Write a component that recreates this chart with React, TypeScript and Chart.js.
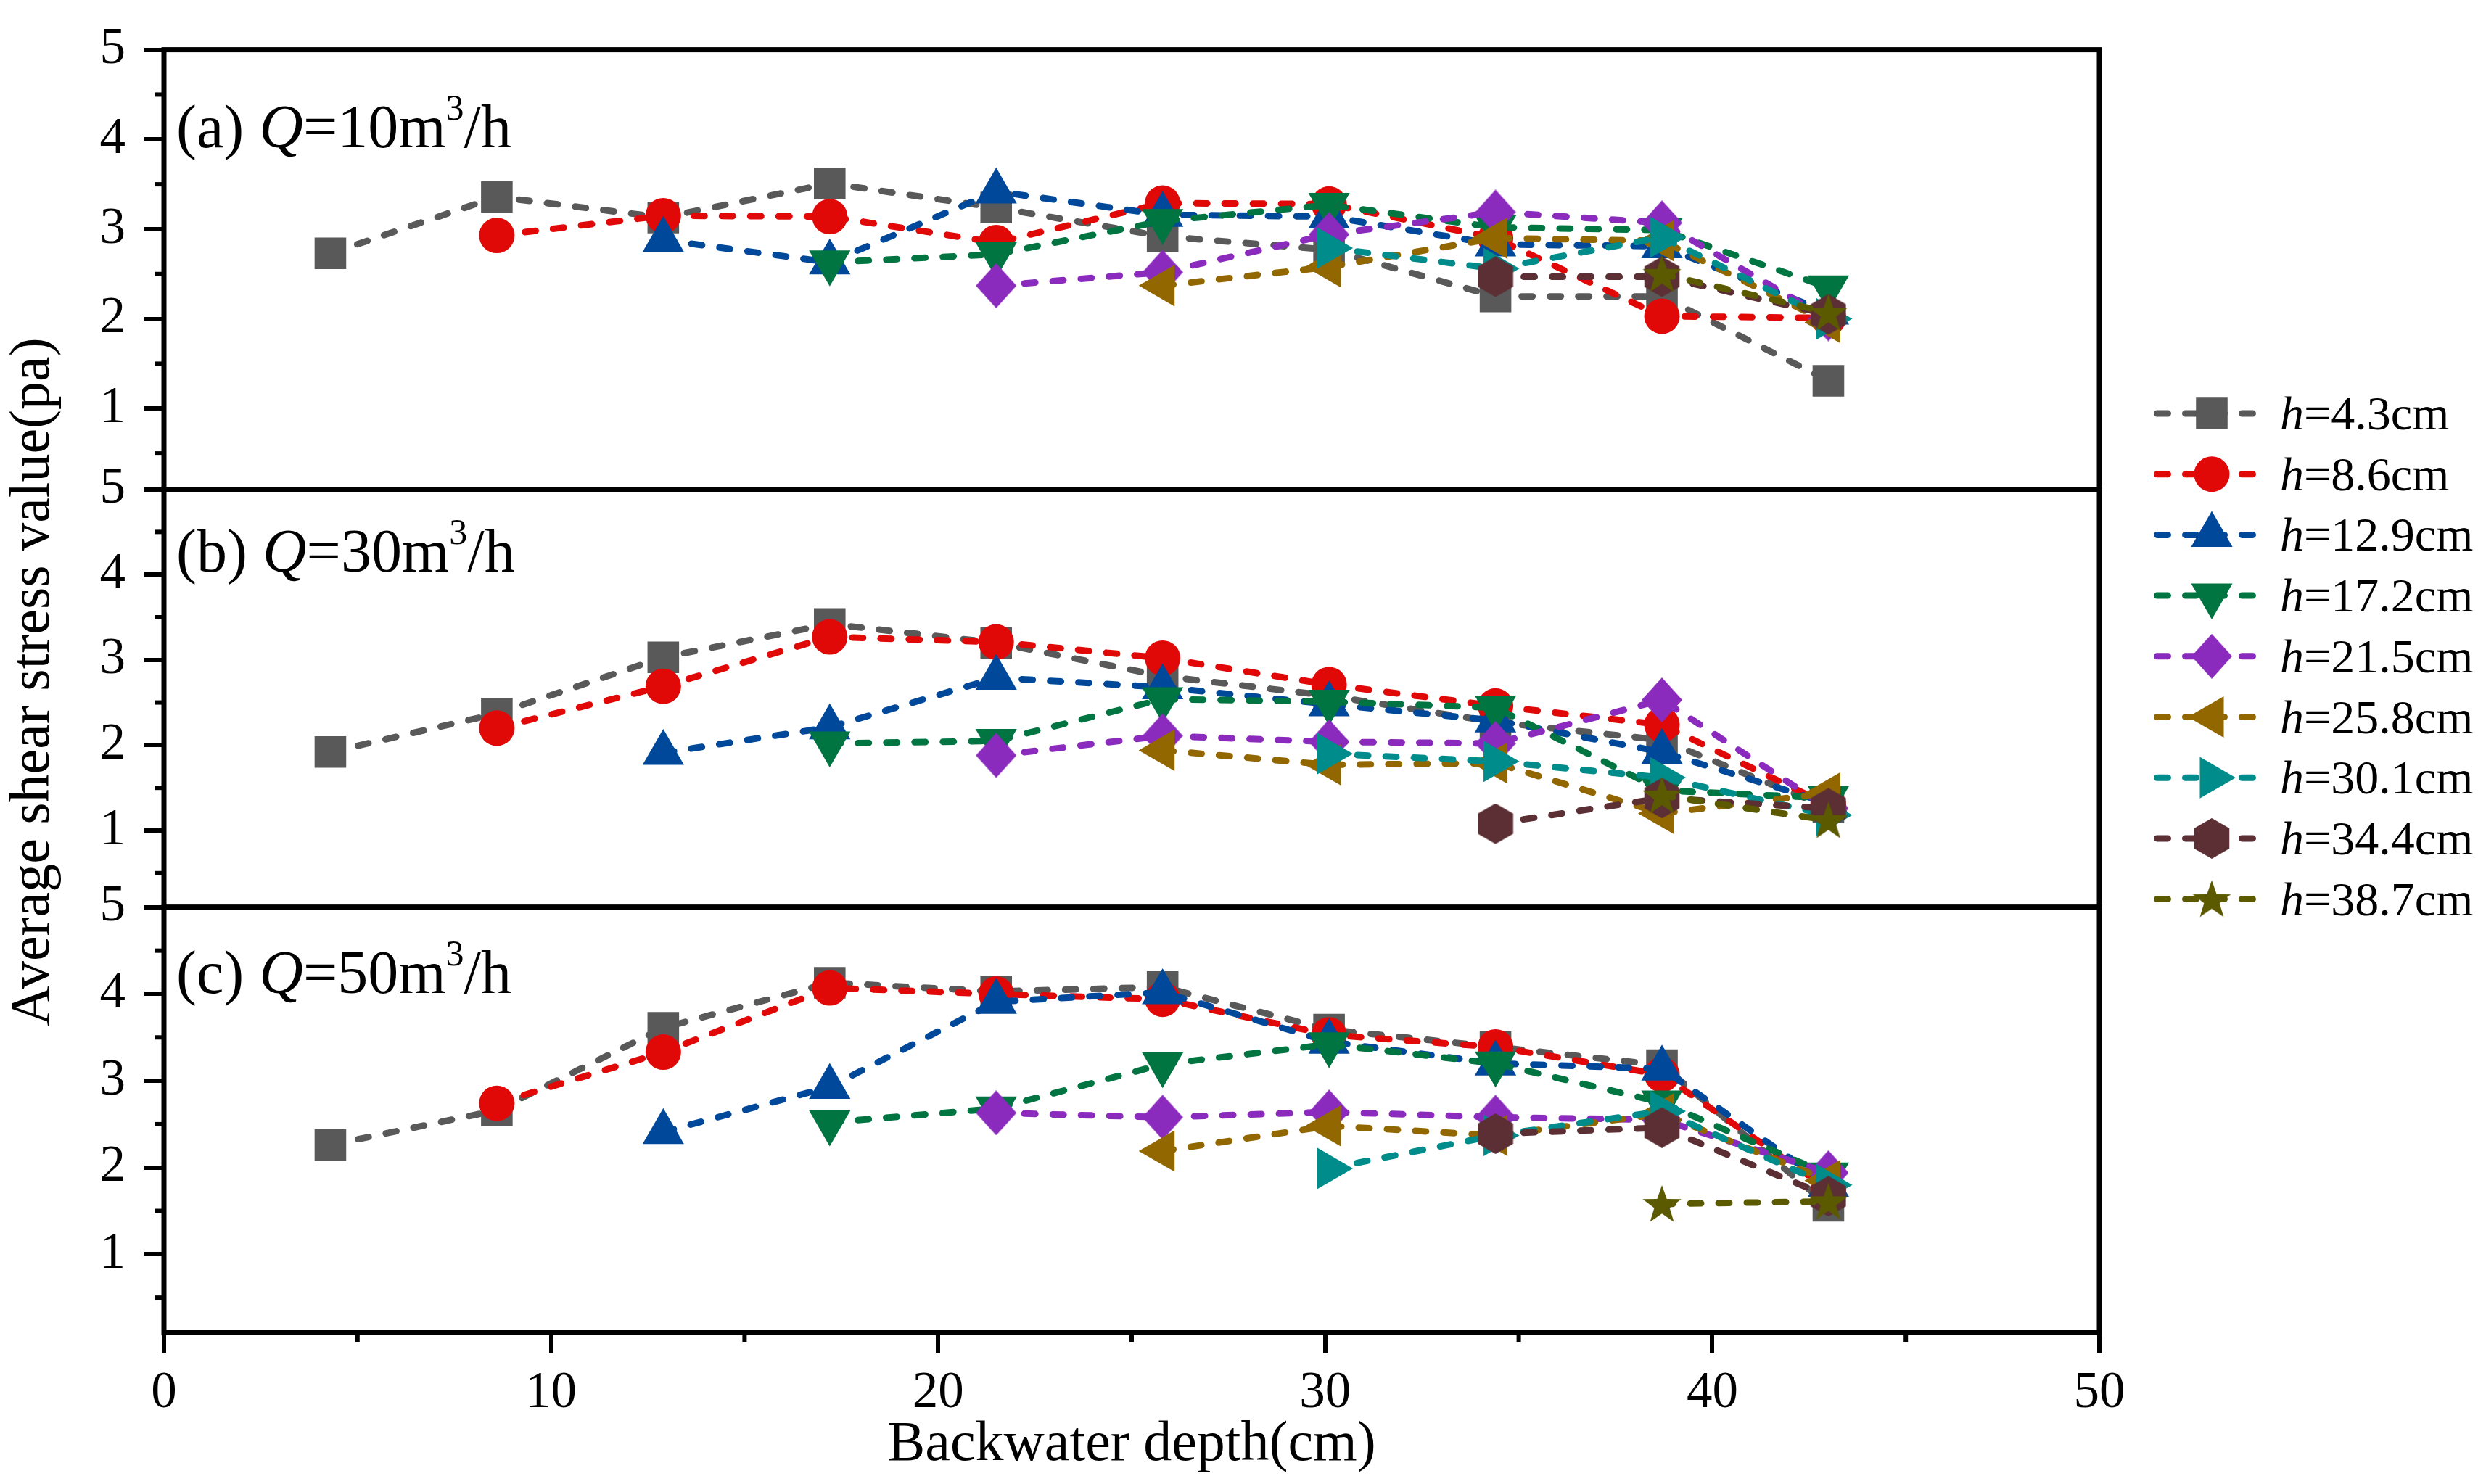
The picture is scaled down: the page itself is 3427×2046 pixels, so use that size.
import React, { useEffect, useRef } from 'react';
import { Chart, registerables } from 'chart.js';
import { drawPoint } from 'chart.js/helpers';

Chart.register(...registerables);

// ---------------- data ----------------
const depths = [4.3, 8.6, 12.9, 17.2, 21.5, 25.8, 30.1, 34.4, 38.7, 43.0];
const seriesLabels = ['4.3', '8.6', '12.9', '17.2', '21.5', '25.8', '30.1', '34.4', '38.7'];
const panelNames = ['(a) ', '(b) ', '(c) '];
const panelFlows = ['10', '30', '50'];
const xTickValues = [0, 10, 20, 30, 40, 50];
const yTickValues = [1, 2, 3, 4, 5];

// series i starts at depths[i]
const panelA = [
  [2.73, 3.36, 3.13, 3.51, 3.24, 2.92, 2.77, 2.25, 2.25, 1.31],
  [2.93, 3.15, 3.14, 2.85, 3.29, 3.28, 2.9, 2.03, 2.01],
  [2.88, 2.63, 3.42, 3.16, 3.14, 2.83, 2.81, 2.07],
  [2.63, 2.72, 3.09, 3.27, 3.02, 2.99, 2.35],
  [2.37, 2.52, 2.94, 3.19, 3.07, 2.0],
  [2.37, 2.58, 2.9, 2.87, 1.96],
  [2.79, 2.56, 2.91, 2.0],
  [2.47, 2.47, 2.05],
  [2.5, 2.07],
];
const panelB = [
  [1.92, 2.37, 3.03, 3.42, 3.2, 2.81, 2.58, 2.27, 2.06, 1.27],
  [2.2, 2.69, 3.27, 3.21, 3.02, 2.71, 2.46, 2.24, 1.3],
  [1.91, 2.21, 2.79, 2.68, 2.48, 2.29, 1.92, 1.32],
  [2.02, 2.05, 2.54, 2.51, 2.44, 1.47, 1.38],
  [1.88, 2.11, 2.04, 2.02, 2.53, 1.26],
  [1.94, 1.77, 1.79, 1.2, 1.44],
  [1.9, 1.81, 1.62, 1.18],
  [1.08, 1.38, 1.26],
  [1.41, 1.12],
];
const panelC = [
  [2.26, 2.66, 3.61, 4.13, 4.03, 4.08, 3.59, 3.39, 3.18, 1.56],
  [2.74, 3.33, 4.07, 4.0, 3.94, 3.53, 3.39, 3.07, 1.75],
  [2.41, 2.93, 3.91, 4.02, 3.45, 3.2, 3.14, 1.8],
  [2.52, 2.68, 3.19, 3.42, 3.2, 2.75, 1.92],
  [2.63, 2.58, 2.64, 2.58, 2.55, 1.94],
  [2.19, 2.48, 2.37, 2.62, 1.85],
  [1.99, 2.37, 2.65, 1.8],
  [2.39, 2.46, 1.67],
  [1.58, 1.61],
];

const colors = ['#595959', '#E10808', '#00489A', '#007541', '#8B2BBD', '#936700', '#008C8A', '#5B2F34', '#5C5A00'];

// ---------------- styling ----------------
const W = 3427;
const H = 2046;
const FONT = '"Liberation Serif", "Times New Roman", serif';
const AXIS_LEFT = 226;
const PLOT_RIGHT = 2894;
const PLOT_TOP = 51;
const PLOT_BOTTOM = 1837;
const TITLE_OFFSETS = [134, 113, 118];

function makeCanvas(w: number, h: number, draw: (c: CanvasRenderingContext2D) => void) {
  const cv = document.createElement('canvas');
  cv.width = w;
  cv.height = h;
  const c = cv.getContext('2d')!;
  draw(c);
  return cv;
}

function buildMarkers() {
  const diamond = (color: string) =>
    makeCanvas(56, 62, (c) => {
      c.fillStyle = color;
      c.beginPath();
      c.moveTo(28, 0);
      c.lineTo(56, 31);
      c.lineTo(28, 62);
      c.lineTo(0, 31);
      c.closePath();
      c.fill();
    });
  const hexagon = (color: string) =>
    makeCanvas(50, 56, (c) => {
      c.fillStyle = color;
      c.beginPath();
      for (let k = 0; k < 6; k++) {
        const a = -Math.PI / 2 + (k * Math.PI) / 3;
        const px = 25 + 28 * Math.cos(a);
        const py = 28 + 28 * Math.sin(a);
        if (k === 0) c.moveTo(px, py);
        else c.lineTo(px, py);
      }
      c.closePath();
      c.fill();
    });
  const star = (color: string) =>
    makeCanvas(56, 56, (c) => {
      c.fillStyle = color;
      c.beginPath();
      const R = 28;
      const r = R * 0.4;
      for (let k = 0; k < 10; k++) {
        const a = -Math.PI / 2 + (k * Math.PI) / 5;
        const rr = k % 2 === 0 ? R : r;
        const px = 28 + rr * Math.cos(a);
        const py = 30 + rr * Math.sin(a);
        if (k === 0) c.moveTo(px, py);
        else c.lineTo(px, py);
      }
      c.closePath();
      c.fill();
    });
  return [
    { style: 'rect' as any, radius: 30.8, rotation: 0 },
    { style: 'circle' as any, radius: 24.5, rotation: 0 },
    { style: 'triangle' as any, radius: 33, rotation: 0 },
    { style: 'triangle' as any, radius: 33, rotation: 180 },
    { style: diamond(colors[4]) as any, radius: 30, rotation: 0 },
    { style: 'triangle' as any, radius: 33, rotation: -90 },
    { style: 'triangle' as any, radius: 33, rotation: 90 },
    { style: hexagon(colors[7]) as any, radius: 28, rotation: 0 },
    { style: star(colors[8]) as any, radius: 28, rotation: 0 },
  ];
}

function drawRich(
  ctx: CanvasRenderingContext2D,
  parts: { t: string; italic?: boolean; size: number; dy?: number }[],
  x: number,
  y: number
) {
  let cx = x;
  ctx.textAlign = 'left';
  ctx.textBaseline = 'alphabetic';
  for (const p of parts) {
    ctx.font = `${p.italic ? 'italic ' : ''}${p.size}px ${FONT}`;
    ctx.fillText(p.t, cx, y + (p.dy || 0));
    cx += ctx.measureText(p.t).width;
  }
}

export default function App() {
  const ref = useRef<HTMLCanvasElement | null>(null);

  useEffect(() => {
    document.body.style.margin = '0';
    const canvas = ref.current!;
    const markers = buildMarkers();
    const axisIds = ['ya', 'yb', 'yc'];
    const panels = [panelA, panelB, panelC];

    const datasets: any[] = [];
    panels.forEach((panel, p) => {
      panel.forEach((vals, i) => {
        datasets.push({
          label: `h=${seriesLabels[i]}cm`,
          data: vals.map((v, k) => ({ x: depths[i + k], y: v })),
          xAxisID: 'x',
          yAxisID: axisIds[p],
          borderColor: colors[i],
          backgroundColor: colors[i],
          borderWidth: 9,
          borderDash: [15, 24],
          borderCapStyle: 'round',
          pointStyle: markers[i].style,
          pointRadius: markers[i].radius,
          pointHoverRadius: markers[i].radius,
          pointRotation: markers[i].rotation,
          pointBackgroundColor: colors[i],
          pointBorderWidth: 0,
          pointHoverBorderWidth: 0,
          tension: 0,
          fill: false,
          order: 8 - i,
        });
      });
    });

    const yScale = (weight: number, stackWeight: number) => ({
      type: 'linear',
      position: 'left',
      stack: 'panels',
      stackWeight,
      weight,
      min: 0.1,
      max: 5,
      afterBuildTicks: (s: any) => {
        s.ticks = yTickValues.map((v) => ({ value: v }));
      },
      afterFit: (s: any) => {
        s.width = AXIS_LEFT;
      },
      grid: {
        display: true,
        drawOnChartArea: false,
        drawTicks: true,
        tickLength: 27,
        tickWidth: 6,
        tickColor: '#000',
        color: '#000',
        lineWidth: 6,
      },
      border: { display: false },
      ticks: {
        color: '#000',
        font: { family: FONT, size: 71 },
        padding: 26,
        autoSkip: false,
        callback: (v: any) => String(v),
      },
    });

    const decor = {
      id: 'decor',
      afterDraw(chart: any) {
        const ctx: CanvasRenderingContext2D = chart.ctx;
        const area = chart.chartArea;
        const xs = chart.scales.x;
        ctx.save();
        ctx.strokeStyle = '#000';
        ctx.fillStyle = '#000';
        ctx.setLineDash([]);
        // minor ticks
        ctx.lineWidth = 6;
        ctx.lineCap = 'butt';
        axisIds.forEach((id) => {
          const s = chart.scales[id];
          [0.5, 1.5, 2.5, 3.5, 4.5].forEach((v) => {
            const y = s.getPixelForValue(v);
            ctx.beginPath();
            ctx.moveTo(area.left - 13, y);
            ctx.lineTo(area.left, y);
            ctx.stroke();
          });
        });
        [5, 15, 25, 35, 45].forEach((v) => {
          const x = xs.getPixelForValue(v);
          ctx.beginPath();
          ctx.moveTo(x, area.bottom);
          ctx.lineTo(x, area.bottom + 13);
          ctx.stroke();
        });
        // panel frames
        ctx.lineWidth = 7;
        axisIds.forEach((id) => {
          const s = chart.scales[id];
          ctx.strokeRect(area.left, s.top, area.right - area.left, s.bottom - s.top);
        });
        // panel titles
        axisIds.forEach((id, p) => {
          const s = chart.scales[id];
          drawRich(
            ctx,
            [
              { t: panelNames[p], size: 84 },
              { t: 'Q', italic: true, size: 84 },
              { t: `=${panelFlows[p]}m`, size: 84 },
              { t: '3', size: 50, dy: -38 },
              { t: '/h', size: 84 },
            ],
            area.left + 17,
            s.top + TITLE_OFFSETS[p]
          );
        });
        // axis titles
        ctx.font = `78px ${FONT}`;
        ctx.textAlign = 'center';
        ctx.textBaseline = 'alphabetic';
        ctx.fillText('Backwater depth(cm)', (area.left + area.right) / 2, 2013);
        ctx.save();
        ctx.translate(67, 940);
        ctx.rotate(-Math.PI / 2);
        ctx.fillText('Average shear stress value(pa)', 0, 0);
        ctx.restore();
        // legend
        seriesLabels.forEach((lab, i) => {
          const y = 570 + i * 83.7;
          ctx.strokeStyle = colors[i];
          ctx.lineWidth = 9;
          ctx.lineCap = 'round';
          ctx.setLineDash([15, 24]);
          ctx.beginPath();
          ctx.moveTo(2973.5, y);
          ctx.lineTo(3124.5, y);
          ctx.stroke();
          ctx.setLineDash([]);
          ctx.fillStyle = colors[i];
          drawPoint(ctx, { pointStyle: markers[i].style, rotation: markers[i].rotation, radius: markers[i].radius, borderWidth: 0 } as any, 3049, y);
          ctx.fillStyle = '#000';
          drawRich(
            ctx,
            [
              { t: 'h', italic: true, size: 66 },
              { t: `=${lab}cm`, size: 66 },
            ],
            3143,
            y + 22
          );
        });
        ctx.restore();
      },
    };

    const chart = new Chart(canvas, {
      type: 'line',
      data: { datasets },
      options: {
        responsive: false,
        animation: false,
        devicePixelRatio: 1,
        events: [],
        layout: { padding: { left: 0, right: W - PLOT_RIGHT, top: PLOT_TOP, bottom: 0 } },
        plugins: { legend: { display: false }, tooltip: { enabled: false } },
        scales: {
          x: {
            type: 'linear',
            position: 'bottom',
            min: 0,
            max: 50,
            afterBuildTicks: (s: any) => {
              s.ticks = xTickValues.map((v) => ({ value: v }));
            },
            afterFit: (s: any) => {
              s.height = H - PLOT_BOTTOM;
            },
            grid: {
              display: true,
              drawOnChartArea: false,
              drawTicks: true,
              tickLength: 28,
              tickWidth: 6,
              tickColor: '#000',
              color: '#000',
              lineWidth: 6,
            },
            border: { display: false },
            ticks: {
              color: '#000',
              font: { family: FONT, size: 71 },
              padding: 14,
              maxRotation: 0,
              autoSkip: false,
              callback: (v: any) => String(v),
            },
          },
          ya: yScale(3, 612),
          yb: yScale(2, 582),
          yc: yScale(1, 592),
        } as any,
      },
      plugins: [decor],
    } as any);

    return () => chart.destroy();
  }, []);

  return (
    <div style={{ width: W, height: H, overflow: 'hidden', background: '#fff' }}>
      <canvas ref={ref} width={W} height={H} style={{ width: W, height: H, display: 'block' }} />
    </div>
  );
}
